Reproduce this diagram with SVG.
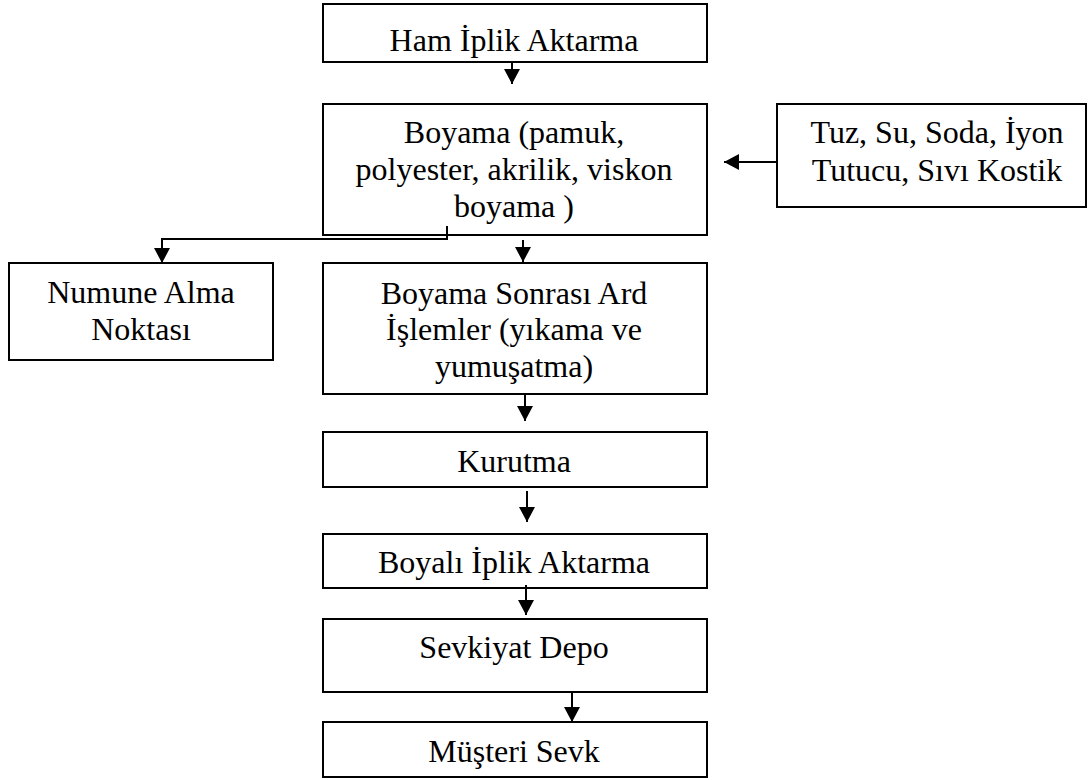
<svg xmlns="http://www.w3.org/2000/svg" width="1090" height="780" viewBox="0 0 1090 780">
<style>
.box{fill:#fff;stroke:#000;stroke-width:2}
.t{font-family:"Liberation Serif","Times New Roman",serif;font-size:32px;fill:#000;text-anchor:middle}
.c{fill:none;stroke:#000;stroke-width:2}
</style>
<defs>
<marker id="ah" markerUnits="userSpaceOnUse" markerWidth="16" markerHeight="16" refX="15" refY="8" orient="auto">
<path d="M0,0 L15,8 L0,16 Z" fill="#000"/>
</marker>
</defs>
<rect width="1090" height="780" fill="#fff"/>
<g id="n1"><rect class="box" x="323" y="4" width="384" height="58"/><text class="t" x="514" y="51">Ham İplik Aktarma</text></g>
<g id="n2"><rect class="box" x="323" y="104" width="384" height="131"/>
<text class="t" x="514" y="143">Boyama (pamuk,</text>
<text class="t" x="514" y="180">polyester, akrilik, viskon</text>
<text class="t" x="514" y="217">boyama )</text></g>
<g id="n3"><rect class="box" x="777" y="104" width="309" height="103"/>
<text class="t" x="937" y="143">Tuz, Su, Soda, İyon</text>
<text class="t" x="937" y="181">Tutucu, Sıvı Kostik</text></g>
<g id="n4"><rect class="box" x="9" y="263" width="264" height="97"/>
<text class="t" x="141" y="303">Numune Alma</text>
<text class="t" x="141" y="340">Noktası</text></g>
<g id="n5"><rect class="box" x="323" y="263" width="384" height="131"/>
<text class="t" x="514" y="304">Boyama Sonrası Ard</text>
<text class="t" x="514" y="340">İşlemler (yıkama ve</text>
<text class="t" x="514" y="377">yumuşatma)</text></g>
<g id="n6"><rect class="box" x="323" y="432" width="384" height="55"/><text class="t" x="514" y="472">Kurutma</text></g>
<g id="n7"><rect class="box" x="323" y="534" width="384" height="54"/><text class="t" x="514" y="573">Boyalı İplik Aktarma</text></g>
<g id="n8"><rect class="box" x="323" y="619" width="384" height="73"/><text class="t" x="514" y="658">Sevkiyat Depo</text></g>
<g id="n9"><rect class="box" x="323" y="722" width="384" height="55"/><text class="t" x="514" y="762">Müşteri Sevk</text></g>
<g id="connectors">
<line class="c" x1="512" y1="62" x2="512" y2="84" marker-end="url(#ah)"/>
<line class="c" x1="777" y1="162" x2="724" y2="162" marker-end="url(#ah)"/>
<polyline class="c" points="447,226 447,239 162,239 162,263" marker-end="url(#ah)"/>
<line class="c" x1="523" y1="240" x2="523" y2="262" marker-end="url(#ah)"/>
<line class="c" x1="525" y1="394" x2="525" y2="421" marker-end="url(#ah)"/>
<line class="c" x1="527" y1="491" x2="527" y2="522" marker-end="url(#ah)"/>
<line class="c" x1="526" y1="585" x2="526" y2="615" marker-end="url(#ah)"/>
<line class="c" x1="572" y1="693" x2="572" y2="722" marker-end="url(#ah)"/>
</g>
</svg>
